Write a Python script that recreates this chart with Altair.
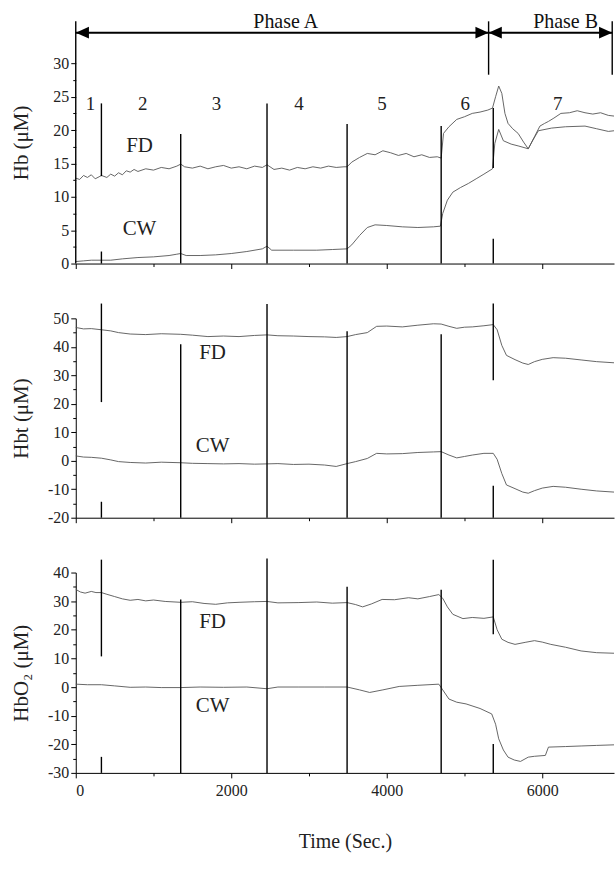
import altair as alt
import pandas as pd

FONT = "Liberation Serif"
X_MAX = 6923

# ---------------- Hb panel ----------------
hb_fd_t = [0, 50, 100, 150, 200, 250, 300, 330, 400, 450, 500, 550, 600, 650, 700, 750, 800, 900, 1000, 1100,
           1200, 1300, 1350, 1400, 1500, 1600, 1700, 1800, 1900, 2000, 2100, 2200, 2300, 2400, 2460, 2550, 2650,
           2750, 2850, 2950, 3050, 3150, 3250, 3350, 3450, 3490, 3550, 3650, 3750, 3850, 3950, 4050, 4150, 4250,
           4350, 4450, 4550, 4650, 4700, 4730, 4800, 4900, 5000, 5100, 5200, 5300, 5360, 5400, 5440, 5480, 5520,
           5560, 5620, 5690, 5760, 5820, 5900, 5970, 6030, 6080, 6150, 6240, 6350, 6450, 6550, 6650, 6750, 6850, 6923]
hb_fd_v = [12.8, 12.6, 13.2, 12.9, 13.3, 12.7, 13.0, 13.2, 12.9, 13.4, 13.1, 13.6, 13.3, 13.9, 13.7, 14.1, 13.8, 14.2,
           14.0, 14.4, 14.2, 14.6, 14.9, 14.5, 14.3, 14.6, 14.2, 14.5, 14.7, 14.3, 14.5, 14.2, 14.6, 14.4, 14.8, 14.1,
           14.3, 14.0, 14.4, 14.2, 14.5, 14.3, 14.6, 14.4, 14.5, 14.5, 15.2, 15.9, 16.5, 16.3, 16.9, 16.6, 16.2, 16.5,
           16.0, 16.3, 15.9, 16.0, 15.8, 19.5, 20.5, 21.6, 22.0, 22.5, 22.7, 23.0, 23.3, 25.0, 26.6, 25.5, 22.5,
           21.0, 20.2, 19.5, 18.2, 17.2, 19.0, 20.6, 21.0, 21.3, 21.8, 22.5, 22.6, 22.9, 22.6, 22.4, 22.6, 22.2, 22.1]
hb_cw_t = [0, 100, 200, 330, 450, 600, 800, 1000, 1200, 1300, 1350, 1420, 1600, 1800, 2000, 2200, 2400, 2460, 2520,
           2800, 3100, 3300, 3490, 3550, 3650, 3750, 3850, 4000, 4200, 4400, 4600, 4690, 4720, 4780, 4850, 4950,
           5050, 5150, 5250, 5360, 5390, 5440, 5500, 5600, 5700, 5820, 5880, 5950, 6120, 6300, 6550, 6700, 6850, 6923]
hb_cw_v = [0.3, 0.4, 0.5, 0.5, 0.5, 0.7, 0.9, 1.0, 1.2, 1.4, 1.5, 1.2, 1.2, 1.3, 1.5, 1.8, 2.2, 2.6, 2.0,
           2.0, 2.0, 2.1, 2.2, 2.8, 4.2, 5.4, 5.8, 5.7, 5.5, 5.4, 5.5, 5.6, 7.5, 9.5, 10.7, 11.4,
           12.0, 12.7, 13.4, 14.2, 18.0, 20.1, 18.4, 17.9, 17.6, 17.2, 18.5, 19.9, 20.3, 20.5, 20.6, 20.2, 19.8, 19.9]

# ---------------- Hbt panel ----------------
hbt_fd_t = [0, 100, 200, 330, 450, 550, 700, 900, 1100, 1350, 1500, 1700, 1900, 2100, 2300, 2460, 2600, 2800, 3000,
            3200, 3350, 3490, 3600, 3750, 3870, 4000, 4200, 4400, 4600, 4700, 4800, 4900, 5000, 5100, 5250, 5370,
            5420, 5480, 5540, 5650, 5750, 5820, 5900, 6000, 6140, 6300, 6500, 6700, 6923]
hbt_fd_v = [46.8, 46.3, 46.4, 46.0, 45.6, 45.0, 44.5, 44.3, 44.6, 44.4, 44.1, 43.6, 43.8, 43.6, 44.0, 44.2, 43.9, 43.8,
            43.6, 43.5, 43.3, 43.6, 44.3, 45.0, 47.2, 47.3, 47.0, 47.6, 48.1, 48.0, 47.2, 46.5, 46.9, 47.0, 47.4,
            47.8, 46.0, 40.5, 37.0, 35.5, 34.3, 33.8, 34.8, 35.6, 36.2, 36.0, 35.4, 34.8, 34.4]
hbt_cw_t = hbt_fd_t
hbt_cw_v = [1.7, 1.3, 1.2, 0.9, 0.3, -0.3, -0.6, -0.8, -0.5, -0.7, -0.9, -1.0, -1.1, -1.0, -1.2, -1.1, -1.0, -1.3,
            -1.2, -1.5, -2.0, -1.0, -0.3, 0.8, 2.6, 2.4, 2.5, 2.9, 3.1, 3.2, 2.0, 1.0, 1.5, 2.0, 2.6, 2.6,
            0.5, -4.5, -8.5, -9.8, -11.0, -11.4, -10.5, -9.6, -9.0, -9.3, -10.0, -10.6, -11.0]

# ---------------- HbO2 panel ----------------
hbo_fd_t = [0, 60, 120, 200, 260, 330, 400, 500, 600, 700, 800, 900, 1000, 1150, 1350, 1500, 1650, 1800, 1950, 2100,
            2300, 2460, 2600, 2870, 3100, 3300, 3490, 3600, 3690, 3800, 3940, 4100, 4280, 4400, 4550, 4670, 4720,
            4780, 4850, 4980, 5100, 5250, 5370, 5420, 5480, 5560, 5650, 5780, 5900, 6000, 6110, 6300, 6500, 6700, 6923]
hbo_fd_v = [34.1, 33.2, 32.8, 33.4, 33.0, 33.0, 32.4, 31.6, 30.8, 30.3, 30.6, 30.1, 30.4, 29.9, 29.6, 29.8, 29.2, 28.9,
            29.4, 29.6, 29.8, 29.9, 29.4, 29.5, 29.7, 29.3, 29.5, 28.8, 28.0, 29.0, 30.6, 30.5, 31.2, 30.8, 31.6, 32.3,
            31.0, 28.0, 25.4, 23.9, 24.3, 24.0, 24.5, 20.0, 16.7, 15.6, 14.9, 15.6, 16.2, 15.7, 14.9, 13.9, 12.6, 12.0, 11.8]
hbo_cw_t = [0, 150, 330, 500, 700, 900, 1100, 1350, 1600, 1900, 2200, 2460, 2600, 2870, 3200, 3490, 3650, 3780, 3950,
            4160, 4400, 4670, 4720, 4800, 4900, 5020, 5200, 5350, 5400, 5440, 5500, 5560, 5640, 5720, 5820, 5900,
            6040, 6080, 6300, 6500, 6700, 6923]
hbo_cw_v = [1.0, 0.8, 0.8, 0.4, -0.1, 0.0, -0.2, -0.2, 0.0, -0.1, 0.0, -0.6, 0.0, 0.0, 0.0, 0.0, -1.0, -1.9, -1.0,
            0.2, 0.6, 1.0, -1.0, -4.2, -5.3, -5.9, -7.5, -9.4, -13.0, -18.1, -22.0, -24.5, -25.5, -26.0, -24.5, -24.2,
            -23.9, -21.0, -20.8, -20.6, -20.4, -20.2]

# ---------------- event markers (time, low, high) ----------------
hb_mk_t = [0, 5310, 6900, 330, 330, 1350, 2460, 3490, 4700, 5370, 5370]
hb_mk_lo = [0, 28.3, 28.3, 13.1, 0, 0, 0, 0, 0, 14.3, 0]
hb_mk_hi = [36.3, 36.3, 36.3, 24.0, 1.8, 19.4, 24.0, 20.9, 20.6, 23.3, 3.7]

hbt_mk_t = [330, 330, 1350, 2460, 3490, 4700, 5370, 5370]
hbt_mk_lo = [20.6, -20, -20, -20, -20, -20, 28.3, -20]
hbt_mk_hi = [55.2, -14.4, 40.9, 55.0, 45.5, 44.4, 55.2, -8.8]

hbo_mk_t = [330, 330, 1350, 2460, 3490, 4700, 5370, 5370]
hbo_mk_lo = [10.7, -30, -30, -30, -30, -30, 18.4, -30]
hbo_mk_hi = [44.5, -24.4, 30.6, 44.9, 35.0, 34.0, 44.5, -19.9]

# ---------------- stage numbers & phases ----------------
stage_text = ["1", "2", "3", "4", "5", "6", "7"]
stage_t = [190, 860, 1810, 2870, 3940, 5010, 6200]
stage_v = [23.9] * 7

phase_names = ["Phase A", "Phase B"]
phase_start = [0, 5310]
phase_end = [5310, 6900]
phase_text_t = [2700, 6300]

# series labels per panel: (t, value)
hb_lbl = (["FD", "CW"], [820, 820], [17.6, 5.2])
hbt_lbl = (["FD", "CW"], [1760, 1760], [37.7, 5.2])
hbo_lbl = (["FD", "CW"], [1760, 1760], [22.6, -6.6])

# tick values (major + minor), major step per axis
X_TICKS = [0, 1000, 2000, 3000, 4000, 5000, 6000]
hb_ticks = [0, 2.5, 5, 7.5, 10, 12.5, 15, 17.5, 20, 22.5, 25, 27.5, 30]
hbt_ticks = [-20, -15, -10, -5, 0, 5, 10, 15, 20, 25, 30, 35, 40, 45, 50]
hbo_ticks = [-30, -25, -20, -15, -10, -5, 0, 5, 10, 15, 20, 25, 30, 35, 40]


def x_enc(bottom, field="t"):
    kw = dict(values=X_TICKS, tickCount=100, tickColor="black", domainColor="black", tickWidth=1,
              domainWidth=1, grid=False, labelOverlap=False,
              tickSize={"condition": {"test": "datum.value % 2000 === 0", "value": 5}, "value": 3})
    if bottom:
        kw.update(labelExpr="datum.value % 2000 === 0 ? '' + datum.value : ''", labelFont=FONT,
                  labelFontSize=16, labelColor="#222", labelPadding=5, title="Time (Sec.)",
                  titleFont=FONT, titleFontSize=20, titleFontWeight="normal", titleColor="#222",
                  titlePadding=33)
    else:
        kw.update(labels=False, title="")
    return alt.X(f"{field}:Q", scale=alt.Scale(domain=[0, X_MAX], nice=False, zero=False), axis=alt.Axis(**kw))


def y_enc(dom, ticks, major, title, domain_line=True, field="v"):
    ax = alt.Axis(values=ticks, tickCount=100, grid=False, domain=domain_line, domainColor="black",
                  tickColor="black", labelOverlap=False,
                  tickSize={"condition": {"test": f"datum.value % {major} === 0", "value": 5}, "value": 3},
                  labelExpr=f"datum.value % {major} === 0 ? '' + datum.value : ''",
                  labelFont=FONT, labelFontSize=16, labelColor="#222", labelPadding=2,
                  minExtent=38, maxExtent=38, title=title, titleFont=FONT, titleFontSize=21,
                  titleFontWeight="normal", titleColor="#222", titlePadding=6)
    return alt.Y(f"{field}:Q", scale=alt.Scale(domain=dom, nice=False, zero=False), axis=ax)


def panel(series, mk, lbl, dom, ticks, major, title, height, bottom, domain_line=True, extra=None):
    frames = [pd.DataFrame({"t": t, "v": v, "s": s}) for (t, v, s) in series]
    df = pd.concat(frames, ignore_index=True)
    lines = alt.Chart(df).mark_line(color="#555555", strokeWidth=0.9).encode(
        x=x_enc(bottom), y=y_enc(dom, ticks, major, title, domain_line), detail="s:N")
    mdf = pd.DataFrame({"t": mk[0], "lo": mk[1], "hi": mk[2]})
    marks = alt.Chart(mdf).mark_rule(color="black", strokeWidth=1.4).encode(
        x="t:Q", y="lo:Q", y2="hi:Q")
    ldf = pd.DataFrame({"txt": lbl[0], "t": lbl[1], "v": lbl[2]})
    labels = alt.Chart(ldf).mark_text(font=FONT, fontSize=21, color="#222").encode(
        x="t:Q", y="v:Q", text="txt:N")
    layers = [lines, marks, labels] + (extra or [])
    return alt.layer(*layers).properties(width=540, height=height)


# phase header / stage numbers for top panel
stage_df = pd.DataFrame({"txt": stage_text, "t": stage_t, "v": stage_v})
stages = alt.Chart(stage_df).mark_text(font=FONT, fontSize=19, color="#222").encode(
    x="t:Q", y="v:Q", text="txt:N")
ph_df = pd.DataFrame({"name": phase_names, "a": phase_start, "b": phase_end, "tt": phase_text_t,
                      "ya": [34.6, 34.6], "yt": [35.3, 35.3]})
ph_line = alt.Chart(ph_df).mark_rule(color="black", strokeWidth=2).encode(x="a:Q", x2="b:Q", y="ya:Q")
ph_text = alt.Chart(ph_df).mark_text(font=FONT, fontSize=20, color="#111", baseline="alphabetic").encode(
    x="tt:Q", y="yt:Q", text="name:N")
left_head = alt.Chart(ph_df).mark_point(shape="M0,0L1,-0.45L1,0.45Z", size=700, filled=True, color="black",
                                        opacity=1, strokeWidth=0).encode(x="a:Q", y="ya:Q")
right_head = alt.Chart(ph_df).mark_point(shape="M0,0L-1,-0.45L-1,0.45Z", size=700, filled=True, color="black",
                                         opacity=1, strokeWidth=0).encode(x="b:Q", y="ya:Q")

top = panel([(hb_fd_t, hb_fd_v, "FD"), (hb_cw_t, hb_cw_v, "CW")], (hb_mk_t, hb_mk_lo, hb_mk_hi), hb_lbl,
            [0, 36.3], hb_ticks, 5, "Hb (μM)", 243, False, domain_line=False,
            extra=[stages, ph_line, left_head, right_head, ph_text])
mid = panel([(hbt_fd_t, hbt_fd_v, "FD"), (hbt_cw_t, hbt_cw_v, "CW")], (hbt_mk_t, hbt_mk_lo, hbt_mk_hi), hbt_lbl,
            [-20, 50], hbt_ticks, 10, "Hbt (μM)", 200, False)
bot = panel([(hbo_fd_t, hbo_fd_v, "FD"), (hbo_cw_t, hbo_cw_v, "CW")], (hbo_mk_t, hbo_mk_lo, hbo_mk_hi), hbo_lbl,
            [-30, 40], hbo_ticks, 10, "HbO₂ (μM)", 201, True)

chart = alt.vconcat(top, mid, bot, spacing=55, bounds="flush").properties(
    padding={"left": 11, "top": 10, "right": 0, "bottom": 5},
    background="white",
).configure_view(strokeWidth=0)

chart.save("out.html", embed_options={"renderer": "svg", "actions": False})
